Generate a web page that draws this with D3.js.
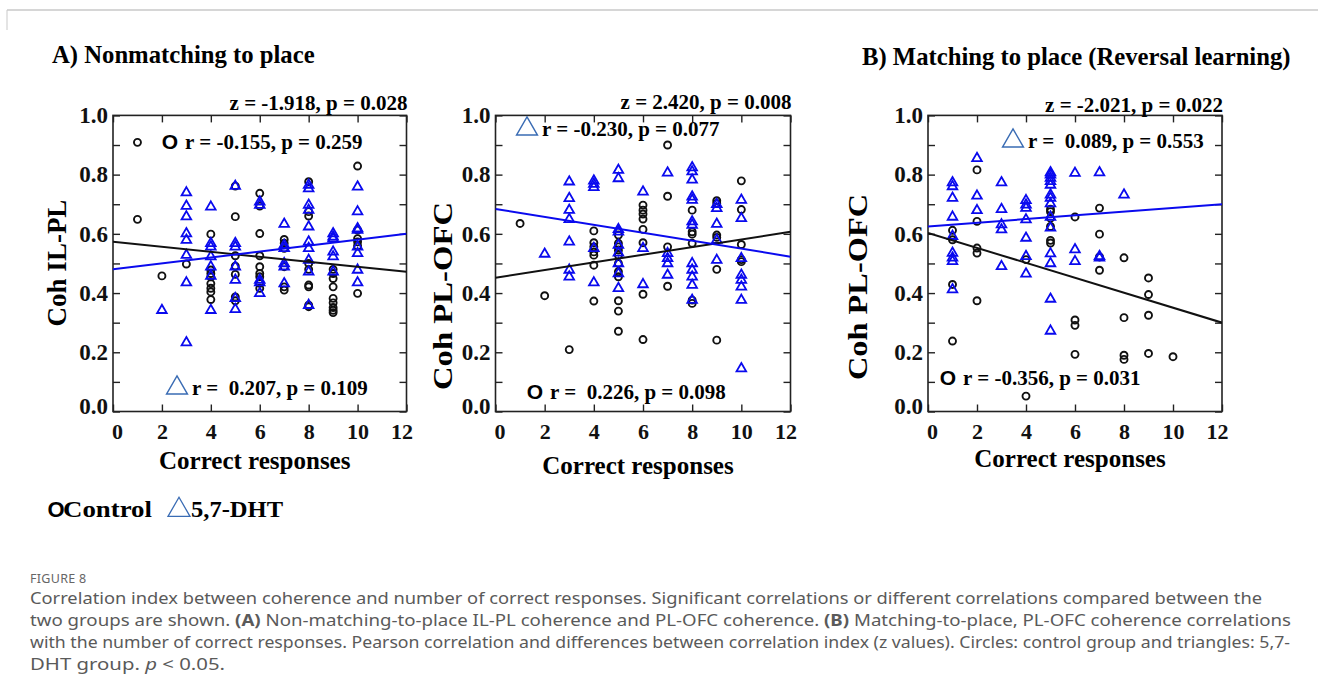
<!DOCTYPE html>
<html>
<head>
<meta charset="utf-8">
<script src="https://cdn.jsdelivr.net/npm/d3@7"></script>
<style>
  body { margin: 0; background: #fff; }
  svg { display: block; }
  text { white-space: pre; }
</style>
</head>
<body>
<div id="chart"></div>
<script>
// axis values
var xTicks = [0, 2, 4, 6, 8, 10, 12];
var yTicks = [0, 0.1, 0.2, 0.3, 0.4, 0.5, 0.6, 0.7, 0.8, 0.9, 1.0];
var yLabels = [0, 0.2, 0.4, 0.6, 0.8, 1.0];

// [correct responses, coherence]
var a1Control = [[1,0.909],[1,0.649],[2,0.458],[3,0.498],
  [4,0.599],[4,0.478],[4,0.466],[4,0.455],[4,0.432],[4,0.416],[4,0.404],[4,0.378],
  [5,0.761],[5,0.658],[5,0.526],[5,0.491],[5,0.463],[5,0.387],[5,0.374],
  [6,0.737],[6,0.694],[6,0.601],[6,0.526],[6,0.489],[6,0.466],[6,0.455],[6,0.433],[6,0.416],
  [7,0.581],[7,0.568],[7,0.551],[7,0.489],[7,0.421],[7,0.410],
  [8,0.776],[8,0.675],[8,0.660],[8,0.500],[8,0.480],[8,0.427],[8,0.421],[8,0.359],[8,0.354],
  [9,0.480],[9,0.466],[9,0.449],[9,0.421],[9,0.382],[9,0.367],[9,0.351],[9,0.342],[9,0.334],
  [10,0.829],[10,0.613],[10,0.584],[10,0.573],[10,0.559],[10,0.399]];
var a1Dht = [[2,0.342],
  [3,0.739],[3,0.694],[3,0.658],[3,0.601],[3,0.579],[3,0.528],[3,0.435],[3,0.233],
  [4,0.691],[4,0.568],[4,0.556],[4,0.523],[4,0.489],[4,0.457],[4,0.342],
  [5,0.761],[5,0.568],[5,0.556],[5,0.489],[5,0.444],[5,0.382],[5,0.345],
  [6,0.708],[6,0.697],[6,0.444],[6,0.435],[6,0.399],
  [7,0.633],[7,0.562],[7,0.551],[7,0.500],[7,0.489],[7,0.432],
  [8,0.765],[8,0.753],[8,0.697],[8,0.680],[8,0.624],[8,0.573],[8,0.551],[8,0.511],[8,0.472],[8,0.359],
  [9,0.601],[9,0.590],[9,0.584],[9,0.539],[9,0.523],[9,0.472],
  [10,0.759],[10,0.675],[10,0.618],[10,0.613],[10,0.556],[10,0.534],[10,0.478],[10,0.435]];

var a2Control = [[1,0.635],[2,0.391],[3,0.209],
  [4,0.610],[4,0.570],[4,0.556],[4,0.539],[4,0.528],[4,0.494],[4,0.373],
  [5,0.596],[5,0.568],[5,0.556],[5,0.545],[5,0.528],[5,0.500],[5,0.472],[5,0.455],[5,0.374],[5,0.339],[5,0.271],
  [6,0.697],[6,0.680],[6,0.667],[6,0.650],[6,0.615],[6,0.570],[6,0.396],[6,0.243],
  [7,0.900],[7,0.727],[7,0.556],[7,0.423],
  [8,0.680],[8,0.607],[8,0.599],[8,0.568],[8,0.376],[8,0.365],
  [9,0.712],[9,0.703],[9,0.596],[9,0.588],[9,0.480],[9,0.241],
  [10,0.779],[10,0.682],[10,0.564],[10,0.513],[10,0.506]];
var a2Dht = [[2,0.532],
  [3,0.776],[3,0.720],[3,0.680],[3,0.649],[3,0.573],[3,0.478],[3,0.455],
  [4,0.779],[4,0.768],[4,0.757],[4,0.551],[4,0.435],
  [5,0.815],[5,0.787],[5,0.615],[5,0.607],[5,0.562],[5,0.536],[5,0.500],[5,0.466],[5,0.416],
  [6,0.742],[6,0.551],[6,0.429],
  [7,0.806],[7,0.534],[7,0.517],[7,0.500],[7,0.461],
  [8,0.824],[8,0.810],[8,0.782],[8,0.725],[8,0.714],[8,0.641],[8,0.630],[8,0.500],[8,0.478],[8,0.455],[8,0.427],[8,0.376],
  [9,0.700],[9,0.686],[9,0.633],[9,0.579],[9,0.511],
  [10,0.714],[10,0.652],[10,0.517],[10,0.461],[10,0.444],[10,0.421],[10,0.376],[10,0.145]];

var bControl = [[1,0.612],[1,0.580],[1,0.429],[1,0.238],
  [2,0.816],[2,0.642],[2,0.552],[2,0.535],[2,0.374],
  [4,0.513],[4,0.052],
  [5,0.683],[5,0.675],[5,0.653],[5,0.625],[5,0.578],[5,0.569],
  [6,0.657],[6,0.309],[6,0.291],[6,0.193],
  [7,0.687],[7,0.599],[7,0.522],[7,0.477],
  [8,0.519],[8,0.317],[8,0.190],[8,0.176],
  [9,0.451],[9,0.395],[9,0.325],[9,0.196],
  [10,0.185]];
var bDht = [[1,0.773],[1,0.760],[1,0.721],[1,0.657],[1,0.592],[1,0.535],[1,0.519],[1,0.507],[1,0.412],
  [2,0.855],[2,0.728],[2,0.679],
  [3,0.773],[3,0.683],[3,0.631],[3,0.614],[3,0.490],
  [4,0.713],[4,0.698],[4,0.687],[4,0.648],[4,0.586],[4,0.524],[4,0.465],
  [5,0.807],[5,0.799],[5,0.788],[5,0.777],[5,0.765],[5,0.732],[5,0.721],[5,0.702],[5,0.657],[5,0.620],[5,0.533],[5,0.500],[5,0.380],[5,0.272],
  [6,0.805],[6,0.547],[6,0.507],
  [7,0.807],[7,0.524],[7,0.519],
  [8,0.732]];

// regression lines: coherence at x = 0 and x = 12
var a1ControlFit = [0.573, 0.472];
var a1DhtFit = [0.480, 0.600];
var a2ControlFit = [0.452, 0.607];
var a2DhtFit = [0.684, 0.523];
var bControlFit = [0.603, 0.300];
var bDhtFit = [0.625, 0.700];

var zStats = ['z = -1.918, p = 0.028', 'z = 2.420, p = 0.008', 'z = -2.021, p = 0.022'];
var controlStats = ['r = -0.155, p = 0.259', 'r =  0.226, p = 0.098', 'r = -0.356, p = 0.031'];
var dhtStats = ['r =  0.207, p = 0.109', 'r = -0.230, p = 0.077', 'r =  0.089, p = 0.553'];

var serif = '"Liberation Serif", "Times New Roman", serif';
var sans = '"Liberation Sans", Arial, sans-serif';
var black = '#111';
var blue = '#0a0aee';
var legendBlue = '#3a6cb4';

var svg = d3.select('#chart').append('svg')
    .attr('width', 1318)
    .attr('height', 675)
    .style('font-family', serif);

// frame line at the top of the figure card
svg.append('line').attr('x1', 7).attr('x2', 1318).attr('y1', 10).attr('y2', 10)
    .attr('stroke', '#c9c9c9').attr('stroke-width', 1.5);
svg.append('line').attr('x1', 7).attr('x2', 7).attr('y1', 10).attr('y2', 30)
    .attr('stroke', '#c9c9c9').attr('stroke-width', 1);

// panel titles
svg.append('text').attr('x', 52).attr('y', 63)
    .attr('font-size', 24.7).attr('font-weight', 'bold')
    .text('A) Nonmatching to place');
svg.append('text').attr('x', 862).attr('y', 65)
    .attr('font-size', 24.7).attr('font-weight', 'bold')
    .text('B) Matching to place (Reversal learning)');

function openTriangle(g, cx, cy, size, color, sw) {
  g.append('path')
      .attr('d', d3.symbol().type(d3.symbolTriangle).size(size)())
      .attr('transform', 'translate(' + cx + ',' + cy + ')')
      .attr('fill', 'none')
      .attr('stroke', color)
      .attr('stroke-width', sw);
}

function bigO(g, cx, baseline, fs) {
  g.append('text').attr('x', cx).attr('y', baseline)
      .attr('text-anchor', 'middle')
      .style('font-family', sans)
      .attr('font-size', fs || 21).attr('font-weight', 'bold')
      .text('O');
}

function drawPanel(p) {
  var x = d3.scaleLinear().domain([0, 12]).range([p.left, p.right]);
  var y = d3.scaleLinear().domain([0, 1]).range([p.bottom, p.top]);
  var g = svg.append('g');

  g.append('clipPath').attr('id', 'clip' + p.id)
    .append('rect')
      .attr('x', p.left).attr('y', p.top)
      .attr('width', p.right - p.left).attr('height', p.bottom - p.top);

  // inward ticks on all four sides
  var bottomAxis = g.append('g')
      .attr('transform', 'translate(0,' + p.bottom + ')')
      .call(d3.axisBottom(x).tickValues(xTicks).tickSize(-7).tickPadding(12));
  g.append('g')
      .attr('transform', 'translate(0,' + p.top + ')')
      .call(d3.axisTop(x).tickValues(xTicks).tickSize(-7).tickFormat(''));
  var leftAxis = g.append('g')
      .attr('transform', 'translate(' + p.left + ',0)')
      .call(d3.axisLeft(y).tickValues(yTicks).tickSize(-7).tickPadding(5)
        .tickFormat(function(d) {
          return yLabels.some(function(v) { return Math.abs(v - d) < 1e-6; }) ? d3.format('.1f')(d) : '';
        }));
  g.append('g')
      .attr('transform', 'translate(' + p.right + ',0)')
      .call(d3.axisRight(y).tickValues(yTicks).tickSize(-7).tickFormat(''));

  g.selectAll('.domain').remove();
  g.selectAll('.tick line').attr('stroke', '#222').attr('stroke-width', 1.4);
  bottomAxis.selectAll('text')
      .attr('font-size', 22).attr('font-weight', 'bold')
      .style('font-family', serif).attr('fill', black)
      .attr('dx', function(d) { return d === 0 ? 4 : (d === 12 ? -5 : 0); });
  leftAxis.selectAll('text')
      .attr('font-size', 23).attr('font-weight', 'bold')
      .style('font-family', serif).attr('fill', black)
      .attr('dy', function(d) { return d === 0 ? '0.1em' : '0.32em'; });

  g.append('rect')
      .attr('x', p.left).attr('y', p.top)
      .attr('width', p.right - p.left).attr('height', p.bottom - p.top)
      .attr('fill', 'none').attr('stroke', '#222').attr('stroke-width', 1.6);

  var marks = g.append('g').attr('clip-path', 'url(#clip' + p.id + ')');

  marks.selectAll('circle.control')
      .data(p.control)
      .enter()
      .append('circle')
      .attr('class', 'control')
      .attr('cx', function(d) { return x(d[0]); })
      .attr('cy', function(d) { return y(d[1]); })
      .attr('r', 3.5)
      .attr('fill', 'none')
      .attr('stroke', black)
      .attr('stroke-width', 1.9);

  marks.selectAll('path.dht')
      .data(p.dht)
      .enter()
      .append('path')
      .attr('class', 'dht')
      .attr('d', d3.symbol().type(d3.symbolTriangle).size(40))
      .attr('transform', function(d) { return 'translate(' + x(d[0]) + ',' + y(d[1]) + ')'; })
      .attr('fill', 'none')
      .attr('stroke', blue)
      .attr('stroke-width', 1.8);

  var line = d3.line()
      .x(function(d) { return x(d[0]); })
      .y(function(d) { return y(d[1]); });
  marks.append('path')
      .attr('d', line([[0, p.controlFit[0]], [12, p.controlFit[1]]]))
      .attr('stroke', black).attr('stroke-width', 2).attr('fill', 'none');
  marks.append('path')
      .attr('d', line([[0, p.dhtFit[0]], [12, p.dhtFit[1]]]))
      .attr('stroke', blue).attr('stroke-width', 2).attr('fill', 'none');

  // statistics
  g.append('text').attr('x', p.right + 1).attr('y', p.zY)
      .attr('text-anchor', 'end')
      .attr('font-size', 21).attr('font-weight', 'bold')
      .text(p.zText);

  bigO(g, p.cO[0], p.cO[1]);
  g.append('text').attr('x', p.cO[0] + 15).attr('y', p.cO[1])
      .attr('font-size', 21).attr('font-weight', 'bold')
      .text(p.cText);

  openTriangle(g, p.dT[0], p.dT[1] - 7, 190, legendBlue, 1.4);
  g.append('text').attr('x', p.dT[0] + 15).attr('y', p.dT[1])
      .attr('font-size', 21).attr('font-weight', 'bold')
      .text(p.dText);

  // axis titles
  g.append('text')
      .attr('x', (p.left + p.right) / 2 - 5).attr('y', p.xTitleY)
      .attr('text-anchor', 'middle')
      .attr('font-size', 25).attr('font-weight', 'bold')
      .text('Correct responses');
  var yt = g.append('text')
      .attr('transform', 'translate(' + p.yTitleX + ',' + p.yTitleY + ') rotate(-90)')
      .attr('text-anchor', 'middle')
      .attr('font-size', 27).attr('font-weight', 'bold')
      .text(p.yTitle);
  if (p.yTitleLen) {
    yt.attr('textLength', p.yTitleLen).attr('lengthAdjust', 'spacingAndGlyphs');
  }
}

drawPanel({ id: 'a1', left: 113, right: 406.5, top: 115.4, bottom: 411.5,
  control: a1Control, dht: a1Dht, controlFit: a1ControlFit, dhtFit: a1DhtFit,
  zText: zStats[0], zY: 110, cText: controlStats[0], cO: [170, 149],
  dText: dhtStats[0], dT: [177, 395],
  xTitleY: 469, yTitle: 'Coh IL-PL', yTitleX: 66, yTitleY: 263 });

drawPanel({ id: 'a2', left: 495.5, right: 790.5, top: 115.4, bottom: 411.5,
  control: a2Control, dht: a2Dht, controlFit: a2ControlFit, dhtFit: a2DhtFit,
  zText: zStats[1], zY: 109, cText: controlStats[1], cO: [535, 399],
  dText: dhtStats[1], dT: [527, 136],
  xTitleY: 474, yTitle: 'Coh PL-OFC', yTitleX: 452, yTitleY: 296, yTitleLen: 188 });

drawPanel({ id: 'b', left: 928, right: 1222, top: 115.4, bottom: 411.5,
  control: bControl, dht: bDht, controlFit: bControlFit, dhtFit: bDhtFit,
  zText: zStats[2], zY: 112, cText: controlStats[2], cO: [948, 385],
  dText: dhtStats[2], dT: [1013, 148],
  xTitleY: 467, yTitle: 'Coh PL-OFC', yTitleX: 867, yTitleY: 287, yTitleLen: 186 });

// group legend
var legend = svg.append('g');
bigO(legend, 56, 517, 22);
legend.append('text').attr('x', 63).attr('y', 517)
    .attr('font-size', 24).attr('font-weight', 'bold')
    .attr('textLength', 89).attr('lengthAdjust', 'spacingAndGlyphs')
    .text('Control');
openTriangle(legend, 179, 510, 210, legendBlue, 1.3);
legend.append('text').attr('x', 191).attr('y', 517)
    .attr('font-size', 24).attr('font-weight', 'bold')
    .attr('textLength', 92).attr('lengthAdjust', 'spacingAndGlyphs')
    .text('5,7-DHT');

// caption
var capFont = '"Noto Sans", "Open Sans", sans-serif';
svg.append('text').attr('x', 30).attr('y', 583)
    .style('font-family', capFont).attr('font-size', 12.5)
    .attr('fill', '#666').attr('letter-spacing', 0.3)
    .text('FIGURE 8');

var captionLines = [
  [['Correlation index between coherence and number of correct responses. Significant correlations or different correlations compared between the', '']],
  [['two groups are shown. ', ''], ['(A)', 'b'], [' Non-matching-to-place IL-PL coherence and PL-OFC coherence. ', ''], ['(B)', 'b'], [' Matching-to-place, PL-OFC coherence correlations', '']],
  [['with the number of correct responses. Pearson correlation and differences between correlation index (z values). Circles: control group and triangles: 5,7-', '']],
  [['DHT group. ', ''], ['p', 'i'], [' < 0.05.', '']]
];
var captionWidths = [1232, 1261, 1260, 195];
var captionBaselines = [604, 626, 648, 670];
captionLines.forEach(function(parts, i) {
  var t = svg.append('text')
      .attr('x', 30).attr('y', captionBaselines[i])
      .style('font-family', capFont).attr('font-size', 16)
      .attr('fill', '#5a5a5a')
      .attr('textLength', captionWidths[i]).attr('lengthAdjust', 'spacingAndGlyphs');
  parts.forEach(function(p) {
    t.append('tspan')
        .attr('font-weight', p[1] === 'b' ? 'bold' : null)
        .attr('font-style', p[1] === 'i' ? 'italic' : null)
        .text(p[0]);
  });
});
</script>
</body>
</html>
